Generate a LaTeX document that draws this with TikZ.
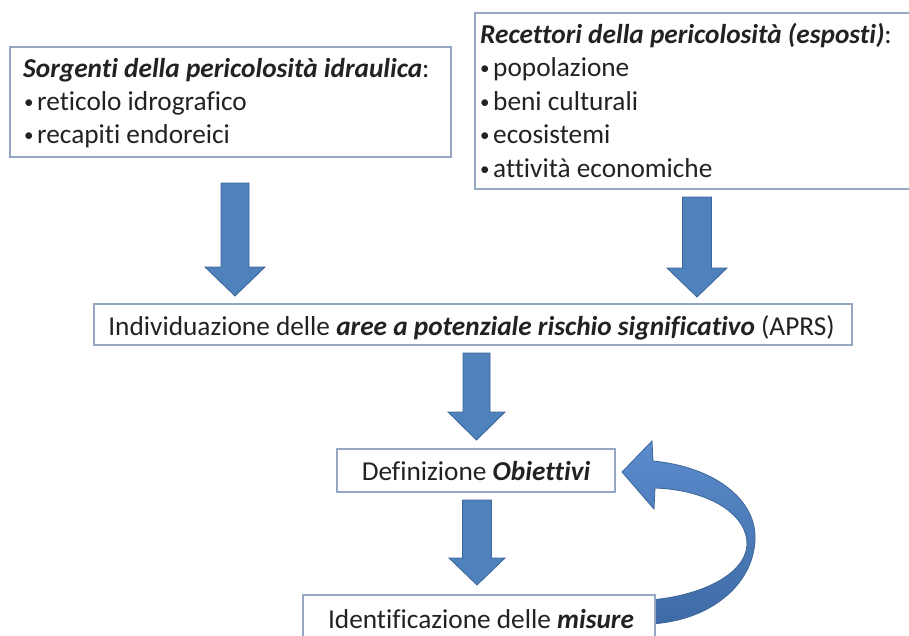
\documentclass[tikz,border=0pt]{standalone}
\usepackage{fontspec}
\setmainfont{Carlito}[Ligatures=NoCommon]
\definecolor{boxline}{HTML}{95A7C2}
\definecolor{arrowfill}{HTML}{4F81BD}
\definecolor{arrowline}{HTML}{3C6699}
\definecolor{arrowlight}{HTML}{5A8BCB}
\definecolor{arrowdark}{HTML}{3E6BA6}
\definecolor{txt}{HTML}{222222}
\newcommand\blockarrowdown[6]{%
  \draw[blockfill] ({#1-#5},#2) -- ({#1+#5},#2) -- ({#1+#5},#3) -- ({#1+#6},#3) -- (#1,#4) -- ({#1-#6},#3) -- ({#1-#5},#3) -- cycle;}
\newcommand\smallbul{\makebox[13pt][l]{\raisebox{1.5pt}{\fontsize{19}{19}\selectfont •}}}
\begin{document}
\begin{tikzpicture}[x=1pt,y=-1pt,
  boxstyle/.style={draw=boxline, line width=1.5pt, fill=white, rectangle, inner sep=0pt},
  txtstyle/.style={anchor=base west, inner sep=0pt, text=txt, font=\fontsize{27.3}{33}\selectfont},
  ctxt/.style={anchor=base, inner sep=0pt, text=txt, font=\fontsize{27.3}{33}\selectfont},
  blockfill/.style={fill=arrowfill, draw=arrowline, line width=0.8pt, line join=miter}]
\useasboundingbox (0,0) rectangle (909,635);
\clip (0,0) rectangle (909,635);
\fill[white] (0,0) rectangle (909,635);
% boxes
\node[boxstyle, minimum width=441pt, minimum height=110pt] (src) at (230.5,102) {};
\node[boxstyle, minimum width=437pt, minimum height=176pt] (rec) at (693.5,101) {};
\node[boxstyle, minimum width=758pt, minimum height=41pt] (aprs) at (473,324.5) {};
\node[boxstyle, minimum width=278pt, minimum height=43pt] (obj) at (476,470.5) {};
% curved feedback arrow
\shadedraw[top color=arrowlight, bottom color=arrowdark, draw=arrowline, line width=0.8pt, line join=miter]
  (622,472) -- (652,441) -- (653,461)
  .. controls (715,467) and (757,500) .. (755,540)
  .. controls (753,585) and (710,621) .. (650,624)
  -- (650,600)
  .. controls (700,596) and (745,575) .. (747,545)
  .. controls (748,515) and (710,490) .. (655,488)
  -- (654,509) -- cycle;
\node[boxstyle, minimum width=352pt, minimum height=50pt] (mis) at (479,620) {};
% texts
\node[txtstyle] (s0) at (23,77) {\textbf{\textit{Sorgenti della pericolosità idraulica}}:};
\node[txtstyle] (s1) at (24,110) {\smallbul reticolo idrografico};
\node[txtstyle] (s2) at (24,143) {\smallbul recapiti endoreici};
\node[txtstyle] (r0) at (480,43) {\textbf{\textit{Recettori della pericolosità (esposti)}}:};
\node[txtstyle] (r1) at (480,76) {\smallbul popolazione};
\node[txtstyle] (r2) at (480,110) {\smallbul beni culturali};
\node[txtstyle] (r3) at (480,143) {\smallbul ecosistemi};
\node[txtstyle] (r4) at (480,177) {\smallbul attività economiche};
\node[ctxt] (aprst) at (471.5,335) {Individuazione delle \textbf{\textit{aree a potenziale rischio significativo}} (APRS)};
\node[ctxt] (objt) at (476,480) {Definizione \textbf{\textit{Obiettivi}}};
\node[ctxt] (mist) at (481,628) {Identificazione delle \textbf{\textit{misure}}};
% block arrows
\blockarrowdown{235}{183}{267}{296}{14}{30}
\blockarrowdown{697}{197}{268}{297}{14.5}{30}
\blockarrowdown{476.5}{353}{412}{440}{13.5}{28.5}
\blockarrowdown{477}{500}{558}{585}{14.5}{28}
\end{tikzpicture}
\end{document}
